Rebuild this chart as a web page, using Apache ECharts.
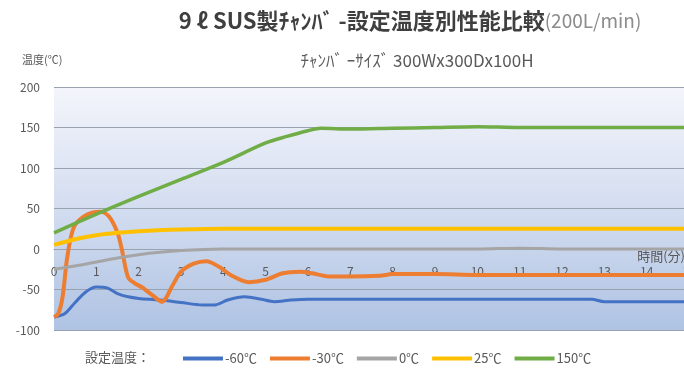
<!DOCTYPE html>
<html>
<head>
<meta charset="utf-8">
<script src="https://cdn.jsdelivr.net/npm/echarts@6/dist/echarts.min.js"></script>
<style>
  html, body { margin: 0; padding: 0; background: #ffffff; }
  #chart { width: 684px; height: 369px; }
</style>
</head>
<body>
<div id="chart"></div>
<script>
// Elapsed time (minutes) and chamber temperature (°C) for each set point
const tMinus60 = [0, 0.25, 0.5, 0.75, 1.0, 1.25, 1.5, 1.75, 2.0, 2.5, 3.0, 3.5, 3.8, 4.1, 4.5, 4.9, 5.2, 5.6, 6.0, 7, 8, 9, 10, 11, 12, 12.7, 13.0, 14, 15];
const vMinus60 = [-84, -80, -66, -53, -47, -48, -55, -59, -61, -63, -66, -69, -69, -63, -59, -62, -65, -63, -62, -62, -62, -62, -62, -62, -62, -62, -65, -65, -65];

const tMinus30 = [0, 0.1, 0.2, 0.3, 0.4, 0.5, 0.7, 0.9, 1.1, 1.3, 1.5, 1.6, 1.75, 1.9, 2.1, 2.3, 2.55, 2.8, 3.0, 3.3, 3.6, 3.9, 4.2, 4.6, 5.0, 5.4, 5.8, 6.1, 6.5, 7, 7.7, 8, 9, 10, 11, 12, 13, 14, 15];
const vMinus30 = [-84, -80, -60, -15, 15, 30, 40, 45, 46, 40, 20, 0, -35, -42, -48, -56, -65, -45, -28, -18, -15, -22, -33, -41, -38, -30, -28, -30, -34, -34, -33, -31, -31, -32, -32, -32, -32, -32, -32];

const tZero = [0, 0.5, 1.0, 1.5, 2.0, 2.5, 3.0, 4, 5, 6, 7, 8, 9, 10, 11, 12, 13, 14, 15];
const vZero = [-25, -21, -16, -11, -7, -4, -2, 0, 0, 0, 0, 0, 0, 0, 1, 0, 0, 0, 0];

const tPlus25 = [0, 0.5, 1.0, 1.5, 2.0, 3.0, 4, 5, 6, 7, 8, 9, 10, 11, 12, 13, 14, 15];
const vPlus25 = [5, 12, 17, 20, 22, 24, 25, 25, 25, 25, 25, 25, 25, 25, 25, 25, 25, 25];

const tPlus150 = [0, 1, 2, 3, 4, 5, 5.5, 6, 6.3, 7, 8, 9, 10, 11, 12, 13, 14, 15];
const vPlus150 = [20, 43, 65, 86, 107, 131, 139, 146, 149, 148, 149, 150, 151, 150, 150, 150, 150, 150];

const seriesNames = ['-60℃', '-30℃', '0℃', '25℃', '150℃'];
const seriesColors = ['#4472C4', '#ED7D31', '#A5A5A5', '#FFC000', '#70AD47'];
const yTicks = { min: -100, max: 200, step: 50 };
const xTicks = { min: 0, max: 15, step: 1 };

const pairs = (t, v) => t.map((x, i) => [x, v[i]]);
const seriesData = [
  pairs(tMinus60, vMinus60),
  pairs(tMinus30, vMinus30),
  pairs(tZero, vZero),
  pairs(tPlus25, vPlus25),
  pairs(tPlus150, vPlus150)
];
const lineWidths = [3, 4, 3, 4, 3.5];

const FONT = '"Noto Sans CJK JP", "Noto Sans", sans-serif';
const GRID_LINE = '#9aa2b0';
const W = 684, H = 369;
const GRID = { left: 54, right: -5, top: 87, bottom: 39 };
// lift the time axis from the plot bottom up to the 0℃ line
const plotHeight = H - GRID.top - GRID.bottom;
const zeroLift = plotHeight * (0 - yTicks.min) / (yTicks.max - yTicks.min);

const chart = echarts.init(document.getElementById('chart'), null, { renderer: 'canvas' });

chart.setOption({
  animation: false,
  backgroundColor: '#ffffff',
  textStyle: { fontFamily: FONT },
  title: [
    {
      text: '{b|9 ℓ SUS製ﾁｬﾝﾊﾞ -設定温度別性能比較}{n|(200L/min)}',
      left: 405, top: 5, textAlign: 'center',
      textStyle: {
        rich: {
          b: { fontFamily: FONT, fontSize: 22, fontWeight: 'bold', color: '#3f3f3f' },
          n: { fontFamily: FONT, fontSize: 19, fontWeight: 'normal', color: '#8c8c8c' }
        }
      }
    },
    {
      text: 'ﾁｬﾝﾊﾞ ｰｻｲｽﾞ 300Wx300Dx100H',
      left: 412, top: 47, textAlign: 'center',
      textStyle: { fontFamily: FONT, fontSize: 17, fontWeight: 'normal', color: '#595959' }
    },
    {
      text: '設定温度：',
      left: 80, top: 346,
      textStyle: { fontFamily: FONT, fontSize: 13, fontWeight: 'normal', color: '#595959' }
    }
  ],
  legend: {
    data: seriesNames,
    left: 178, top: 347,
    icon: 'rect',
    itemWidth: 40, itemHeight: 4,
    itemGap: 13,
    textStyle: { fontFamily: FONT, fontSize: 13, color: '#595959', padding: [0, 0, 0, -3] }
  },
  grid: {
    left: GRID.left, right: GRID.right, top: GRID.top, bottom: GRID.bottom,
    outerBoundsMode: 'none',
    containLabel: false,
    show: true, borderWidth: 0,
    backgroundColor: new echarts.graphic.LinearGradient(0, 0, 0, 1, [
      { offset: 0, color: '#f4f5fb' },
      { offset: 0.5, color: '#d3ddf0' },
      { offset: 1, color: '#afc3e3' }
    ])
  },
  xAxis: {
    type: 'value',
    position: 'bottom',
    offset: -zeroLift,
    min: xTicks.min, max: xTicks.max, interval: xTicks.step,
    axisLine: { show: true, onZero: false, lineStyle: { color: GRID_LINE, width: 1.2 } },
    axisTick: { show: false },
    splitLine: { show: false },
    axisLabel: {
      margin: 16, fontSize: 12, color: '#595959', fontFamily: FONT
    },
    name: '時間(分)',
    nameLocation: 'end',
    nameGap: -4,
    nameTextStyle: {
      fontFamily: FONT, fontSize: 13, color: '#595959',
      align: 'right', verticalAlign: 'top', padding: [1, 0, 0, 0]
    }
  },
  yAxis: {
    type: 'value',
    min: yTicks.min, max: yTicks.max, interval: yTicks.step,
    axisLine: { show: false },
    axisTick: { show: false },
    axisLabel: { margin: 14, fontSize: 12, color: '#595959', fontFamily: FONT },
    splitLine: { lineStyle: { color: GRID_LINE, width: 1.2 } },
    name: '温度(℃)',
    nameLocation: 'end',
    nameGap: 22,
    nameTextStyle: { fontFamily: FONT, fontSize: 11, color: '#595959', align: 'left', padding: [0, 0, 0, -32] }
  },
  series: seriesNames.map((name, i) => ({
    name: name,
    type: 'line',
    data: seriesData[i],
    smooth: 0.3,
    showSymbol: false,
    color: seriesColors[i],
    lineStyle: { width: lineWidths[i], color: seriesColors[i] },
    z: 2 + i
  }))
});
</script>
</body>
</html>
